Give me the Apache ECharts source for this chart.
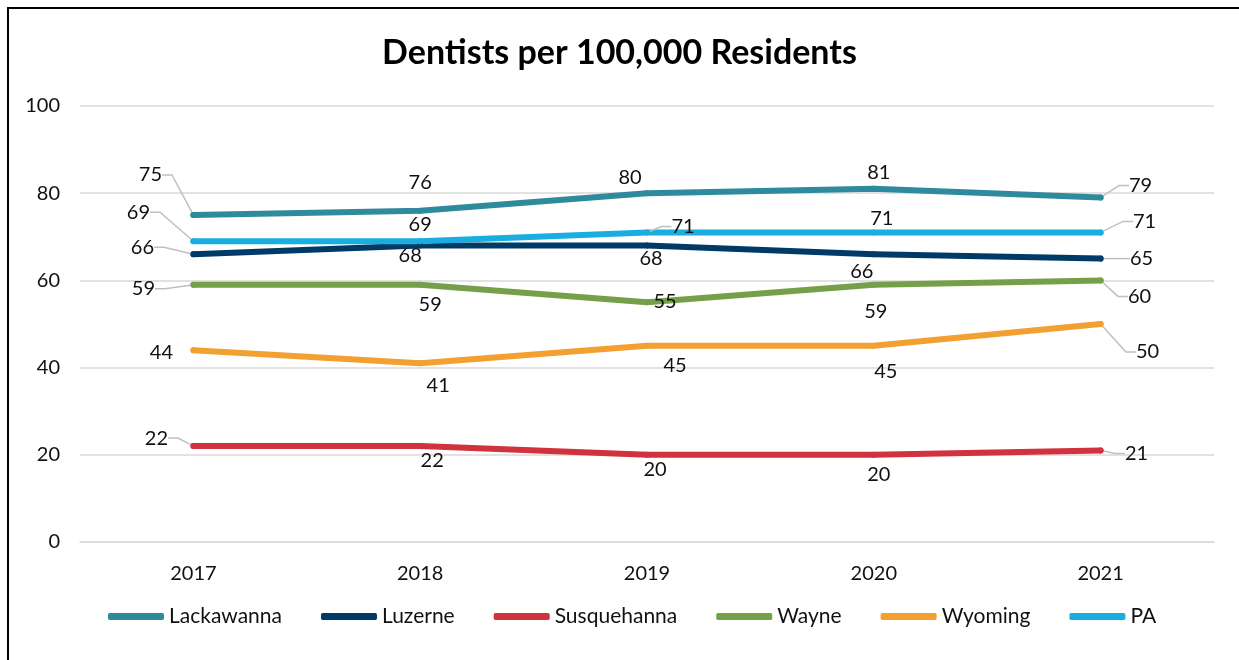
<!DOCTYPE html>
<html>
<head>
<meta charset="utf-8">
<script src="https://cdn.jsdelivr.net/npm/echarts@6/dist/echarts.min.js"></script>
<style>
html,body{margin:0;padding:0;background:#fff;}
#chart{width:1239px;height:660px;}
</style>
</head>
<body>
<div id="chart"></div>
<script>
// ---- data ----
const years = ['2017', '2018', '2019', '2020', '2021'];
const lackawanna = [75, 76, 80, 81, 79];
const luzerne = [66, 68, 68, 66, 65];
const susquehanna = [22, 22, 20, 20, 21];
const wayne = [59, 59, 55, 59, 60];
const wyoming = [44, 41, 45, 45, 50];
const pa = [69, 69, 71, 71, 71];
const seriesNames = ['Lackawanna', 'Luzerne', 'Susquehanna', 'Wayne', 'Wyoming', 'PA'];
const yTicks = [0, 20, 40, 60, 80, 100];

// ---- styling (label placement offsets in px, leader line flags) ----
const colors = ['#2e8b9e', '#003a66', '#d0323e', '#74a049', '#f2a031', '#1aaee0'];
const labelOffsets = [
  [[-43, -40], [0, -28], [-17, -16], [5, -16], [40, -12]],
  [[-51, -7], [-10, 10], [4, 13], [-12, 17], [41, 0]],
  [[-37, -8], [12, 14], [8, 15], [5, 20], [36, 3]],
  [[-50, 4], [10, 20], [18, -1], [2, 27], [39, 16]],
  [[-32, 2], [18, 22], [28, 20], [12, 26], [47, 28]],
  [[-55, -29], [0, -17], [36, -6], [8, -14], [44, -11]]
];
const leaders = [
  [1, 0, 0, 0, 1],
  [1, 0, 0, 0, 1],
  [1, 0, 0, 0, 1],
  [1, 0, 0, 0, 1],
  [0, 0, 0, 0, 1],
  [1, 0, 1, 0, 1]
];

const values = [lackawanna, luzerne, susquehanna, wayne, wyoming, pa];
const FONT = 'Lato, "Open Sans", sans-serif';

const chart = echarts.init(document.getElementById('chart'), null, {renderer: 'canvas'});

const series = values.map((arr, si) => ({
  name: seriesNames[si],
  type: 'line',
  data: arr.map((v, i) => ({
    value: v,
    labelLine: {show: !!leaders[si][i]}
  })),
  symbol: 'circle',
  symbolSize: 6,
  showSymbol: true,
  itemStyle: {color: colors[si]},
  lineStyle: {width: 6, color: colors[si], cap: 'round', join: 'round'},
  label: {
    show: true,
    position: 'inside',
    fontFamily: FONT,
    fontSize: 20,
    color: '#111',
    align: 'center',
    verticalAlign: 'middle'
  },
  labelLine: {
    show: false,
    length2: 10,
    smooth: false,
    minTurnAngle: 90,
    lineStyle: {color: '#c0c0c0', width: 1.5}
  },
  labelLayout: function (params) {
    const off = labelOffsets[si][params.dataIndex];
    const cx = params.rect.x + params.rect.width / 2;
    const cy = params.rect.y + params.rect.height / 2;
    return {
      x: cx + off[0],
      y: cy + off[1],
      align: 'center',
      verticalAlign: 'middle'
    };
  },
  emphasis: {disabled: true},
  animation: false
}));

chart.setOption({
  animation: false,
  backgroundColor: '#fff',
  title: {
    text: 'Dentists per 100,000 Residents',
    left: 'center',
    top: 31,
    textStyle: {fontFamily: FONT, fontSize: 34, fontWeight: 'bold', color: '#000'}
  },
  grid: {left: 80, right: 25, top: 106, bottom: 118, containLabel: false},
  xAxis: {
    type: 'category',
    data: years,
    boundaryGap: true,
    axisLine: {show: true, lineStyle: {color: '#d9d9d9', width: 1.5}},
    axisTick: {show: false},
    axisLabel: {fontFamily: FONT, fontSize: 20, color: '#111', margin: 22}
  },
  yAxis: {
    type: 'value',
    min: yTicks[0],
    max: yTicks[yTicks.length - 1],
    interval: 20,
    axisLine: {show: false},
    axisTick: {show: false},
    axisLabel: {fontFamily: FONT, fontSize: 20, color: '#111', margin: 20},
    splitLine: {lineStyle: {color: '#d9d9d9', width: 1.5}}
  },
  legend: {
    data: seriesNames,
    bottom: 28,
    left: 103,
    itemWidth: 56,
    itemHeight: 7,
    itemGap: 39,
    icon: 'roundRect',
    textStyle: {fontFamily: FONT, fontSize: 21, color: '#111'}
  },
  graphic: [
    {type: 'line', shape: {x1: 7, y1: 8, x2: 1239, y2: 8}, style: {stroke: '#000', lineWidth: 2}},
    {type: 'line', shape: {x1: 8, y1: 7, x2: 8, y2: 660}, style: {stroke: '#000', lineWidth: 2}}
  ],
  series: series
});
</script>
</body>
</html>
